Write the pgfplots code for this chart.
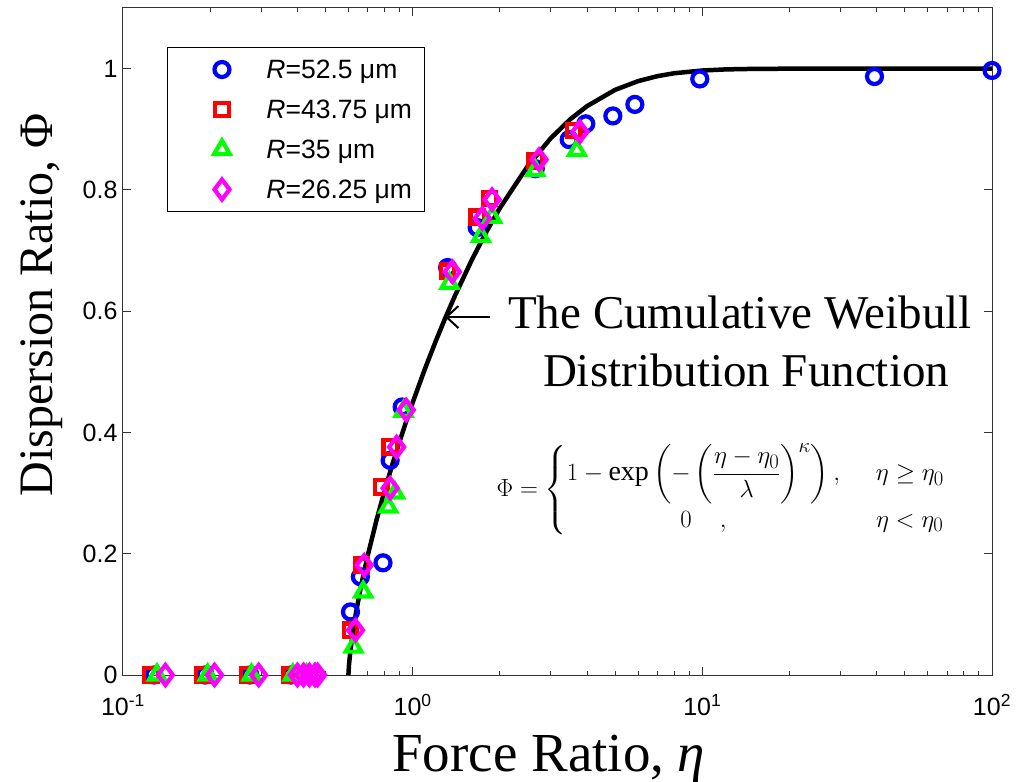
\documentclass[border=0pt]{standalone}
\usepackage{amsmath}
\usepackage{pgfplots}
\pgfplotsset{compat=1.18}
\usepackage{fontspec}
\setmainfont{Liberation Serif}
\newfontfamily\arial{Liberation Sans}
\usetikzlibrary{arrows.meta}
\definecolor{mblue}{RGB}{0,0,255}
\definecolor{mred}{RGB}{255,0,0}
\definecolor{mgreen}{RGB}{0,255,0}
\definecolor{mmag}{RGB}{255,0,255}

\pgfplotstableread{
x y
0.128 0
0.192 0
0.274 0
0.38 0
0.42 0
0.61 0.104
0.66 0.162
0.79 0.185
0.836 0.354
0.92 0.442
1.32 0.672
1.67 0.738
2.65 0.835
3.47 0.883
3.96 0.909
4.91 0.922
5.85 0.941
9.8 0.983
39.3 0.987
100 0.997
}\blueR
\pgfplotstableread{
x y
0.125 0
0.188 0
0.270 0
0.378 0
0.41 0
0.44 0
0.61 0.074
0.665 0.181
0.78 0.310
0.836 0.376
1.32 0.666
1.67 0.755
1.84 0.786
2.65 0.848
3.6 0.898
}\redR
\pgfplotstableread{
x y
0.131 0
0.196 0
0.278 0
0.386 0
0.43 0
0.625 0.046
0.675 0.137
0.824 0.277
0.87 0.300
0.93 0.435
1.34 0.646
1.72 0.723
1.88 0.755
2.65 0.832
3.69 0.865
}\greenR
\pgfplotstableread{
x y
0.140 0
0.207 0
0.294 0
0.40 0
0.42 0
0.44 0
0.46 0
0.47 0
0.635 0.074
0.68 0.181
0.836 0.308
0.88 0.376
0.95 0.437
1.37 0.665
1.74 0.753
1.88 0.784
2.73 0.850
3.78 0.896
}\magR
\pgfplotstableread{
x y
0.6 0
0.603 0.0175
0.61 0.0410
0.62 0.0667
0.63 0.0883
0.64 0.1074
0.66 0.1412
0.68 0.1706
0.70 0.1973
0.75 0.2550
0.80 0.3038
0.85 0.3464
0.90 0.3841
0.95 0.4182
1.0 0.4492
1.1 0.5036
1.2 0.5500
1.3 0.5903
1.4 0.6255
1.6 0.6845
1.8 0.7317
2.0 0.7700
2.5 0.8398
3.0 0.8854
3.5 0.9165
4.0 0.9382
5.0 0.9650
6.0 0.9794
7.0 0.9876
8.0 0.9924
10 0.9969
12 0.9987
15 0.9996
20 0.9999
30 1.0
100 1.0
}\weib

\begin{document}
\begin{tikzpicture}
\useasboundingbox (-123bp,-107bp) rectangle (894bp,675bp);
\begin{axis}[
  scale only axis, width=869bp, height=667bp,
  at={(0,0)}, anchor=south west,
  xmode=log, xmin=0.1, xmax=100, ymin=0, ymax=1.1,
  xtick={0.1,1,10,100},
  xticklabels={10\textsuperscript{-1},10\textsuperscript{0},10\textsuperscript{1},10\textsuperscript{2}},
  ytick={0,0.2,0.4,0.6,0.8,1},
  yticklabels={0,0.2,0.4,0.6,0.8,1},
  tick label style={font=\arial\fontsize{25bp}{30bp}\selectfont},
  yticklabel style={xshift=-2bp},
  xticklabel style={yshift=-16bp},
  tick align=inside,
  major tick length=8bp, minor tick length=4.5bp,
  axis line style={line width=1bp, black!80},
  every tick/.style={line width=1bp, black!80},
  xlabel={Force Ratio, {\itshape η}},
  ylabel={Dispersion Ratio, Φ},
  xlabel style={font=\fontsize{55bp}{60bp}\selectfont, at={(axis description cs:0.49,-0.145)}, anchor=base},
  ylabel style={font=\fontsize{48bp}{54bp}\selectfont, at={(axis description cs:-0.081,0.555)}, anchor=base},
  clip=false,
  legend cell align=left,
  legend style={at={(0.0506,0.9415)}, anchor=north west, draw=black, line width=1bp,
    font=\arial\fontsize{26.5bp}{31bp}\selectfont, inner xsep=10bp, inner ysep=10bp, row sep=16bp,
    nodes={inner sep=2bp}},
  legend image code/.code={\draw[#1,only marks] plot coordinates {(44bp,0bp)}; \path (0bp,-10bp) (86bp,10bp);},
]
\addplot[only marks, mark=o, mark size=7.5bp, draw=mblue, mark options={line width=4.2bp}] table {\blueR};
\addlegendentry{{\itshape R}=52.5 μm}
\addplot[only marks, mark=square, mark size=6.7bp, draw=mred, mark options={line width=4.2bp}] table {\redR};
\addlegendentry{{\itshape R}=43.75 μm}
\addplot[only marks, mark=triangle, mark size=9bp, draw=mgreen, mark options={line width=4.2bp}] table {\greenR};
\addlegendentry{{\itshape R}=35 μm}
\addplot[only marks, mark=diamond, mark size=10bp, draw=mmag, mark options={line width=4.2bp}] table {\magR};
\addlegendentry{{\itshape R}=26.25 μm}
\addplot[no marks, black, line width=4.5bp, forget plot] table {\weib};

\node[font=\fontsize{47bp}{52bp}\selectfont, anchor=base] at (rel axis cs:0.71,0.520) {The Cumulative Weibull};
\node[font=\fontsize{47bp}{52bp}\selectfont, anchor=base] at (rel axis cs:0.717,0.432) {Distribution Function};
\draw[line width=2bp, -{Straight Barb[length=12bp,width=22bp]}] (rel axis cs:0.4223,0.5367) -- (rel axis cs:0.3705,0.5367);
\node[font=\fontsize{28bp}{33bp}\selectfont, inner sep=0pt] at (rel axis cs:0.688,0.277)
 {$\Phi=\left\{\begin{array}{@{}c@{\hspace{36bp}}l@{}}
 1-\exp\left(-\left(\dfrac{\eta-\eta_0}{\lambda}\right)^{\kappa}\right), & \eta\ge\eta_0\\[8bp]
 0\quad, & \eta<\eta_0
 \end{array}\right.$};
\end{axis}
\end{tikzpicture}
\end{document}
